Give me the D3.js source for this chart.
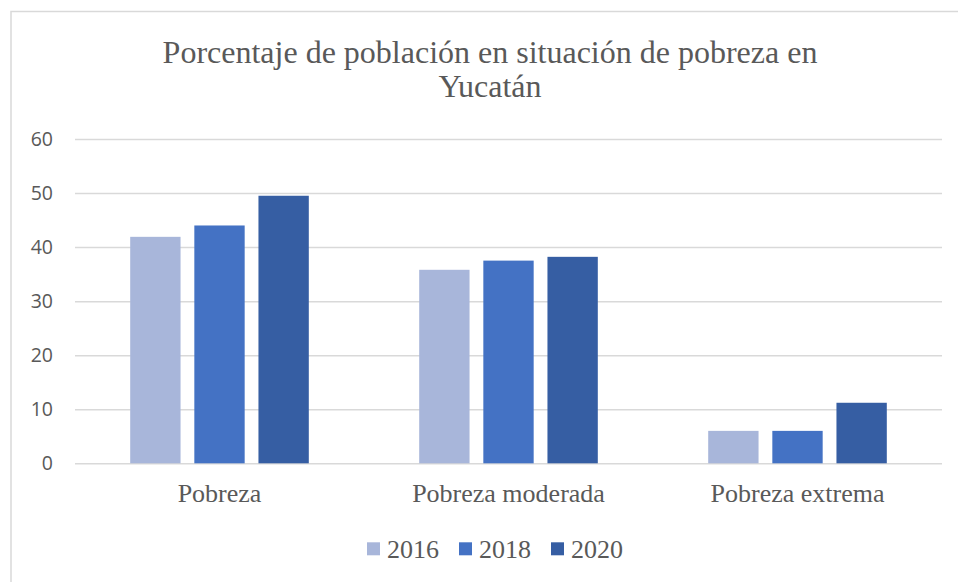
<!DOCTYPE html>
<html>
<head>
<meta charset="utf-8">
<script src="https://cdn.jsdelivr.net/npm/d3@7"></script>
<style>
  body { margin: 0; background: #fff; }
  svg { display: block; }
</style>
</head>
<body>
<svg id="chart"></svg>
<script>
// data
var categories = ["Pobreza", "Pobreza moderada", "Pobreza extrema"];
var years = ["2016", "2018", "2020"];
var values2016 = [41.9, 35.8, 6.0];
var values2018 = [44.0, 37.5, 6.0];
var values2020 = [49.5, 38.2, 11.2];
var yTicks = [0, 10, 20, 30, 40, 50, 60];
var titleLines = ["Porcentaje de población en situación de pobreza en", "Yucatán"];

var series = [values2016, values2018, values2020];
var colors = ["#a8b6da", "#4472c4", "#365ea3"];

var W = 958, H = 582;
// plot box (note: "top" is reserved on window, so use px*)
var pxLeft = 75, pxRight = 942, pxTop = 139, pxBottom = 463.3;
var textColor = "#595959", gridColor = "#d9d9d9";

var svg = d3.select("#chart").attr("width", W).attr("height", H);

// outer chart border
svg.append("rect")
    .attr("x", 11).attr("y", 11.5)
    .attr("width", 980).attr("height", 620)
    .attr("fill", "none")
    .attr("stroke", gridColor)
    .attr("stroke-width", 1.5);

// title
svg.append("text")
    .attr("font-family", "'Liberation Serif', 'Times New Roman', serif")
    .attr("font-size", 32)
    .attr("fill", textColor)
    .attr("text-anchor", "middle")
  .selectAll("tspan").data(titleLines).enter().append("tspan")
    .attr("x", 490)
    .attr("y", function(d, i){ return 63.3 + i*33.4; })
    .text(function(d){ return d; });

var y = d3.scaleLinear().domain([0, 60]).range([pxBottom, pxTop]);
var x0 = d3.scaleBand().domain(categories).range([pxLeft, pxRight])
    .paddingInner(0.382).paddingOuter(0.191);
var x1 = d3.scaleBand().domain(years).range([0, x0.bandwidth()])
    .paddingInner(0.215);

// gridlines + y labels
var yAxis = svg.append("g")
    .attr("transform", "translate(" + pxLeft + ",0)")
    .call(d3.axisLeft(y).tickValues(yTicks).tickSize(-(pxRight - pxLeft)).tickPadding(22));
yAxis.select(".domain").remove();
yAxis.selectAll(".tick line")
    .attr("stroke", gridColor)
    .attr("stroke-width", 1.5);
yAxis.selectAll(".tick text")
    .attr("font-family", "'Open Sans', sans-serif")
    .attr("font-size", 19.5)
    .attr("fill", textColor);

// bars
var groups = svg.selectAll("g.cat").data(categories).enter().append("g")
    .attr("class", "cat")
    .attr("transform", function(d){ return "translate(" + x0(d) + ",0)"; });

groups.selectAll("rect")
    .data(function(d, ci){ return years.map(function(yr, si){ return {year: yr, v: series[si][ci], c: colors[si]}; }); })
    .enter().append("rect")
    .attr("x", function(d){ return x1(d.year); })
    .attr("y", function(d){ return y(d.v); })
    .attr("width", x1.bandwidth())
    .attr("height", function(d){ return y(0) - y(d.v); })
    .attr("fill", function(d){ return d.c; });

// category labels
var xAxis = svg.append("g")
    .attr("transform", "translate(0," + pxBottom + ")")
    .call(d3.axisBottom(x0).tickSize(0).tickPadding(20));
xAxis.select(".domain").remove();
xAxis.selectAll(".tick text")
    .attr("font-family", "'Liberation Serif', 'Times New Roman', serif")
    .attr("font-size", 26)
    .attr("fill", textColor);

// legend
var legend = svg.append("g");
var items = legend.selectAll("g").data(years).enter().append("g");
items.append("rect")
    .attr("width", 13).attr("height", 13)
    .attr("y", 542.3)
    .attr("fill", function(d, i){ return colors[i]; });
items.append("text")
    .attr("x", 20)
    .attr("y", 557.7)
    .attr("font-family", "'Liberation Serif', 'Times New Roman', serif")
    .attr("font-size", 26)
    .attr("fill", textColor)
    .text(function(d){ return d; });
var pos = 0;
items.each(function(){
    var g = d3.select(this);
    g.attr("transform", "translate(" + pos + ",0)");
    pos += 20 + g.select("text").node().getComputedTextLength() + 20;
});
var legendW = pos - 20;
legend.attr("transform", "translate(" + (495 - legendW/2) + ",0)");
</script>
</body>
</html>
